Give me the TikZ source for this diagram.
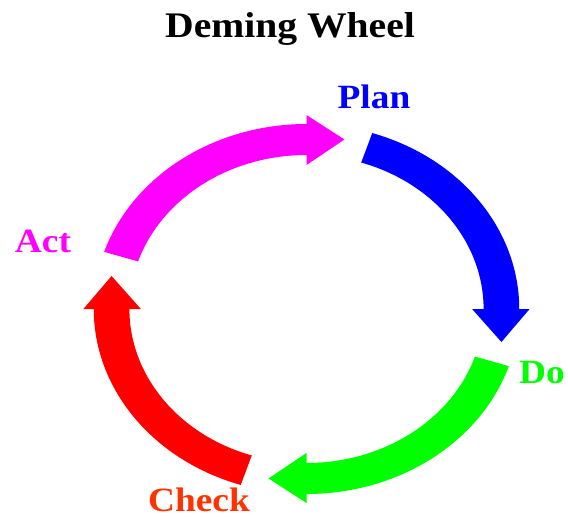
\documentclass[tikz,border=0pt]{standalone}
\usepackage{fontspec}
\setmainfont{Liberation Serif}
\definecolor{planblue}{HTML}{0000FF}
\definecolor{dogreen}{HTML}{00FF00}
\definecolor{checkred}{HTML}{FF0000}
\definecolor{checktext}{HTML}{FF3300}
\definecolor{actmag}{HTML}{FF00FF}
\begin{document}
\begin{tikzpicture}[x=1pt,y=1pt,
  label/.style={font=\fontsize{34}{38}\selectfont\bfseries, anchor=base, inner sep=0pt, xscale=1.1},
  titlestyle/.style={font=\fontsize{36}{40}\selectfont\bfseries, anchor=base, inner sep=0pt, xscale=1.1}]
\useasboundingbox[fill=white] (0,0) rectangle (568,-517);
\node[titlestyle] (title) at (290,-37) {Deming Wheel};
\begin{scope}[shift={(306.5,-309)}, xscale=1.15]
  % Plan (blue)
  \fill[planblue] (72:185) arc[start angle=72, end angle=0, radius=185]
    -- (0:194) -- (169.5,-33) -- (0:144) -- (0:154)
    arc[start angle=0, end angle=72, radius=154] -- cycle;
  % Do (green)
  \fill[dogreen] (-18:185) arc[start angle=-18, end angle=-90, radius=185]
    -- (-90:194) -- (-33,-169.5) -- (-90:144) -- (-90:154)
    arc[start angle=-90, end angle=-18, radius=154] -- cycle;
  % Check (red)
  \fill[checkred] (252:185) arc[start angle=252, end angle=180, radius=185]
    -- (180:194) -- (-169.5,33) -- (180:144) -- (180:154)
    arc[start angle=180, end angle=252, radius=154] -- cycle;
  % Act (magenta)
  \fill[actmag] (162:185) arc[start angle=162, end angle=90, radius=185]
    -- (90:194) -- (33,169.5) -- (90:144) -- (90:154)
    arc[start angle=90, end angle=162, radius=154] -- cycle;
\end{scope}
\node[label, text=planblue] (plan) at (374,-108) {Plan};
\node[label, text=dogreen] (do) at (542,-383) {Do};
\node[label, text=checktext] (check) at (199,-511) {Check};
\node[label, text=actmag] (act) at (43,-252) {Act};
\end{tikzpicture}
\end{document}
